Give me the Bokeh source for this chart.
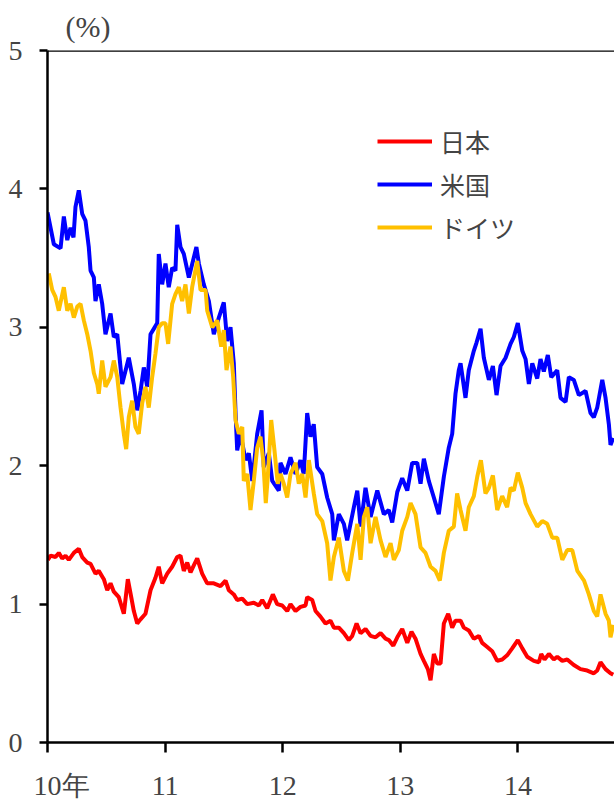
from bokeh.plotting import figure
from bokeh.models import Range1d, Span, Legend, LegendItem, FixedTicker
from bokeh.embed import file_html
from bokeh.resources import INLINE

# ---- data (years since Jan 2010, yield %) ----
year_ticks = [2010, 2011, 2012, 2013, 2014]
year_labels = ["10年", "11", "12", "13", "14"]
y_ticks = [0, 1, 2, 3, 4, 5]
series_names = ["日本", "米国", "ドイツ"]

jp_t = [0.003, 0.026, 0.068, 0.096, 0.125, 0.153, 0.181, 0.224, 0.266, 0.295,
        0.338, 0.366, 0.408, 0.436, 0.479, 0.508, 0.536, 0.564, 0.606, 0.649,
        0.683, 0.712, 0.734, 0.763, 0.791, 0.833, 0.876, 0.918, 0.946, 0.975,
        1.018, 1.060, 1.103, 1.131, 1.159, 1.188, 1.216, 1.244, 1.273, 1.315,
        1.358, 1.414, 1.471, 1.514, 1.542, 1.584, 1.613, 1.656, 1.698, 1.754,
        1.797, 1.826, 1.868, 1.916, 1.953, 1.996, 2.038, 2.066, 2.109, 2.151,
        2.194, 2.208, 2.251, 2.279, 2.321, 2.364, 2.406, 2.435, 2.477, 2.520,
        2.562, 2.591, 2.628, 2.662, 2.704, 2.747, 2.789, 2.832, 2.874, 2.902,
        2.940, 2.974, 3.016, 3.059, 3.095, 3.129, 3.172, 3.200, 3.234, 3.257,
        3.285, 3.314, 3.342, 3.370, 3.407, 3.441, 3.469, 3.512, 3.540, 3.582,
        3.625, 3.668, 3.696, 3.739, 3.781, 3.824, 3.866, 3.908, 3.951, 3.999,
        4.037, 4.079, 4.135, 4.178, 4.198, 4.226, 4.263, 4.305, 4.334, 4.377,
        4.419, 4.475, 4.532, 4.589, 4.645, 4.674, 4.702, 4.745, 4.787, 4.810]
jp_v = [1.32, 1.35, 1.34, 1.37, 1.33, 1.35, 1.32, 1.37, 1.40, 1.34,
        1.30, 1.29, 1.22, 1.24, 1.18, 1.10, 1.15, 1.09, 1.05, 0.93,
        1.18, 1.05, 0.95, 0.86, 0.89, 0.93, 1.10, 1.19, 1.27, 1.15,
        1.22, 1.27, 1.34, 1.35, 1.24, 1.30, 1.23, 1.28, 1.33, 1.22,
        1.15, 1.15, 1.13, 1.17, 1.10, 1.07, 1.03, 1.04, 1.00, 1.01,
        0.99, 1.03, 0.97, 1.07, 1.00, 0.99, 0.95, 1.00, 0.95, 0.98,
        0.99, 1.05, 1.03, 0.95, 0.91, 0.86, 0.88, 0.83, 0.83, 0.79,
        0.74, 0.77, 0.86, 0.79, 0.82, 0.77, 0.76, 0.79, 0.75, 0.74,
        0.70, 0.76, 0.82, 0.72, 0.80, 0.75, 0.64, 0.59, 0.53, 0.45,
        0.64, 0.57, 0.57, 0.86, 0.93, 0.83, 0.88, 0.88, 0.83, 0.81,
        0.75, 0.77, 0.72, 0.69, 0.66, 0.59, 0.60, 0.63, 0.68, 0.74,
        0.68, 0.62, 0.59, 0.58, 0.64, 0.60, 0.64, 0.60, 0.62, 0.59,
        0.60, 0.56, 0.53, 0.52, 0.50, 0.52, 0.58, 0.53, 0.50, 0.49]

us_t = [0.000, 0.054, 0.111, 0.139, 0.168, 0.196, 0.221, 0.238, 0.266, 0.295,
        0.323, 0.351, 0.366, 0.394, 0.408, 0.436, 0.465, 0.493, 0.536, 0.564,
        0.593, 0.635, 0.691, 0.734, 0.763, 0.791, 0.819, 0.848, 0.876, 0.933,
        0.946, 0.975, 1.003, 1.031, 1.060, 1.088, 1.103, 1.131, 1.159, 1.202,
        1.266, 1.287, 1.329, 1.372, 1.414, 1.457, 1.499, 1.528, 1.556, 1.584,
        1.599, 1.613, 1.641, 1.684, 1.712, 1.741, 1.783, 1.820, 1.839, 1.882,
        1.911, 1.967, 1.981, 2.024, 2.066, 2.109, 2.151, 2.179, 2.208, 2.236,
        2.264, 2.293, 2.336, 2.378, 2.421, 2.435, 2.477, 2.520, 2.548, 2.605,
        2.634, 2.662, 2.704, 2.747, 2.804, 2.860, 2.902, 2.931, 2.974, 3.016,
        3.059, 3.101, 3.144, 3.172, 3.200, 3.242, 3.285, 3.327, 3.370, 3.412,
        3.441, 3.469, 3.497, 3.512, 3.554, 3.582, 3.625, 3.648, 3.682, 3.710,
        3.753, 3.787, 3.818, 3.852, 3.895, 3.937, 3.965, 3.999, 4.037, 4.065,
        4.093, 4.122, 4.164, 4.192, 4.220, 4.254, 4.283, 4.334, 4.362, 4.405,
        4.433, 4.475, 4.518, 4.575, 4.617, 4.645, 4.674, 4.717, 4.745, 4.773,
        4.787, 4.810]
us_v = [3.83, 3.60, 3.57, 3.80, 3.63, 3.72, 3.65, 3.87, 3.99, 3.82,
        3.77, 3.58, 3.41, 3.36, 3.19, 3.31, 3.17, 2.95, 3.10, 2.93,
        2.95, 2.59, 2.78, 2.59, 2.40, 2.54, 2.71, 2.57, 2.95, 3.03,
        3.53, 3.31, 3.46, 3.29, 3.43, 3.41, 3.74, 3.58, 3.53, 3.36,
        3.58, 3.46, 3.31, 3.19, 2.95, 3.07, 3.18, 2.90, 3.00, 2.74,
        2.38, 2.11, 2.23, 2.04, 2.09, 1.89, 2.23, 2.40, 1.99, 2.09,
        1.89, 1.82, 2.02, 1.94, 2.06, 1.94, 2.04, 1.94, 2.38, 2.21,
        2.30, 1.99, 1.94, 1.77, 1.65, 1.46, 1.65, 1.58, 1.46, 1.70,
        1.82, 1.56, 1.84, 1.63, 1.82, 1.65, 1.68, 1.59, 1.81, 1.91,
        1.82, 2.02, 2.02, 1.87, 2.05, 1.89, 1.77, 1.65, 1.92, 2.13,
        2.23, 2.52, 2.69, 2.74, 2.49, 2.69, 2.83, 2.89, 2.99, 2.78,
        2.62, 2.72, 2.51, 2.72, 2.78, 2.88, 2.93, 3.03, 2.83, 2.77,
        2.59, 2.74, 2.63, 2.77, 2.68, 2.80, 2.64, 2.69, 2.49, 2.46,
        2.64, 2.62, 2.51, 2.54, 2.38, 2.35, 2.42, 2.62, 2.49, 2.30,
        2.15, 2.20]

de_t = [0.011, 0.040, 0.068, 0.096, 0.139, 0.168, 0.196, 0.224, 0.253, 0.281,
        0.309, 0.338, 0.366, 0.394, 0.423, 0.436, 0.465, 0.493, 0.536, 0.564,
        0.593, 0.621, 0.649, 0.669, 0.691, 0.720, 0.748, 0.776, 0.805, 0.833,
        0.861, 0.890, 0.918, 0.946, 0.975, 1.003, 1.026, 1.060, 1.088, 1.117,
        1.145, 1.173, 1.202, 1.230, 1.273, 1.301, 1.344, 1.358, 1.401, 1.443,
        1.477, 1.499, 1.522, 1.556, 1.579, 1.599, 1.627, 1.656, 1.669, 1.698,
        1.726, 1.754, 1.783, 1.811, 1.834, 1.856, 1.873, 1.902, 1.930, 1.958,
        1.981, 2.009, 2.038, 2.066, 2.109, 2.137, 2.166, 2.194, 2.222, 2.264,
        2.293, 2.336, 2.378, 2.406, 2.435, 2.477, 2.520, 2.554, 2.591, 2.634,
        2.662, 2.690, 2.719, 2.747, 2.789, 2.832, 2.874, 2.917, 2.945, 2.987,
        3.016, 3.059, 3.087, 3.129, 3.172, 3.214, 3.257, 3.299, 3.336, 3.370,
        3.412, 3.455, 3.483, 3.512, 3.554, 3.582, 3.625, 3.654, 3.685, 3.724,
        3.753, 3.787, 3.824, 3.866, 3.908, 3.937, 3.965, 3.999, 4.037, 4.065,
        4.107, 4.164, 4.207, 4.249, 4.292, 4.334, 4.377, 4.419, 4.462, 4.505,
        4.562, 4.603, 4.645, 4.674, 4.702, 4.745, 4.773, 4.787, 4.810]
de_v = [3.39, 3.27, 3.22, 3.12, 3.29, 3.12, 3.17, 3.07, 3.15, 3.17,
        3.05, 2.95, 2.83, 2.67, 2.59, 2.52, 2.76, 2.57, 2.64, 2.76,
        2.64, 2.42, 2.23, 2.12, 2.35, 2.47, 2.28, 2.23, 2.45, 2.57,
        2.42, 2.64, 2.81, 3.00, 3.03, 3.03, 2.88, 3.17, 3.24, 3.29,
        3.19, 3.31, 3.10, 3.29, 3.48, 3.27, 3.27, 3.12, 3.00, 3.05,
        2.86, 2.98, 2.69, 2.86, 2.64, 2.33, 2.23, 2.28, 1.89, 1.94,
        1.68, 1.89, 2.13, 2.21, 2.04, 1.73, 1.92, 2.33, 2.11, 1.87,
        1.94, 1.87, 1.77, 1.94, 2.02, 1.87, 1.94, 1.77, 2.04, 1.80,
        1.65, 1.60, 1.44, 1.17, 1.34, 1.48, 1.24, 1.17, 1.37, 1.58,
        1.32, 1.63, 1.70, 1.44, 1.63, 1.46, 1.34, 1.44, 1.32, 1.39,
        1.53, 1.63, 1.73, 1.65, 1.41, 1.37, 1.27, 1.24, 1.17, 1.37,
        1.53, 1.56, 1.80, 1.68, 1.53, 1.70, 1.78, 1.92, 2.04, 1.80,
        1.84, 1.93, 1.68, 1.78, 1.70, 1.84, 1.82, 1.95, 1.84, 1.73,
        1.65, 1.56, 1.60, 1.58, 1.48, 1.48, 1.32, 1.39, 1.39, 1.24,
        1.17, 1.07, 0.95, 0.91, 1.07, 0.93, 0.88, 0.76, 0.85]

series_t = [jp_t, us_t, de_t]
series_v = [jp_v, us_v, de_v]
colors = ["#FF0000", "#0000FF", "#FFC000"]

JP = "Noto Sans CJK JP"
SERIF = "'Liberation Serif'"

p = figure(width=614, height=803, output_backend="svg", toolbar_location=None,
           x_range=Range1d(2010, 2014.821), y_range=Range1d(0, 5),
           min_border_left=47, min_border_right=0, min_border_top=50, min_border_bottom=61,
           title="(%)")
p.background_fill_color = "white"
p.border_fill_color = "white"
p.outline_line_color = None
p.grid.visible = False

p.title.text_font = SERIF
p.title.text_font_size = "30px"
p.title.text_font_style = "normal"
p.title.align = "left"
p.title.offset = 18
p.title.standoff = 15

items = []
for name, t, v, c in zip(series_names, series_t, series_v, colors):
    r = p.line([2010 + x for x in t], v, line_color=c, line_width=4)
    items.append(LegendItem(label=name, renderers=[r]))

p.add_layout(Span(location=5, dimension="width", line_color="black", line_width=2.5))

# first label padded with an ideographic space so that "10" sits on its tick
xa = p.xaxis[0]
xa.ticker = FixedTicker(ticks=year_ticks)
xa.major_label_overrides = {k: ("\u3000" + lab if k == year_ticks[0] else lab)
                            for k, lab in zip(year_ticks, year_labels)}
xa.axis_line_width = 2.5
xa.major_tick_line_width = 2.5
xa.major_tick_out = 10
xa.major_tick_in = 0
xa.minor_tick_line_color = None
xa.major_label_text_font = SERIF
xa.major_label_text_font_size = "28px"
xa.major_label_standoff = 17

ya = p.yaxis[0]
ya.ticker = FixedTicker(ticks=y_ticks)
ya.axis_line_width = 2.5
ya.major_tick_line_width = 2.5
ya.major_tick_out = 8
ya.major_tick_in = 0
ya.minor_tick_line_color = None
ya.major_label_text_font = SERIF
ya.major_label_text_font_size = "28px"
ya.major_label_standoff = 17

legend = Legend(items=items, location=(330, 497), orientation="vertical")
legend.label_text_font = JP
legend.label_text_font_size = "25px"
legend.glyph_width = 55
legend.glyph_height = 30
legend.label_height = 30
legend.label_standoff = 8
legend.spacing = 7
legend.padding = 0
legend.margin = 0
legend.border_line_color = None
legend.background_fill_alpha = 0
p.add_layout(legend, "center")

open("out.html", "w").write(file_html(p, INLINE))
